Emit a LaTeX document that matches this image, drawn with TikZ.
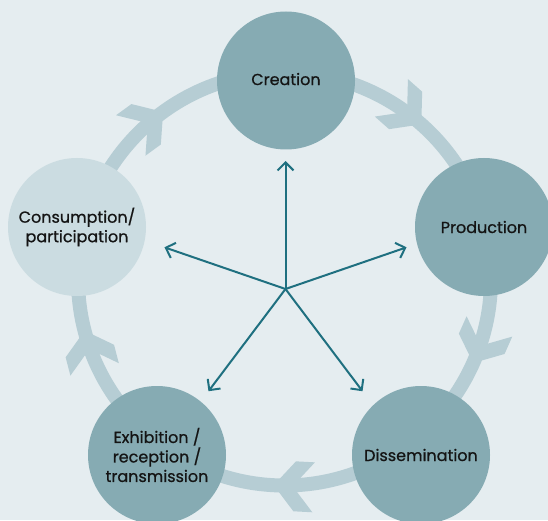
\documentclass[tikz,border=0pt]{standalone}
\usepackage{fontspec}
\setmainfont{Poppins}[FakeBold=0.7]
\usetikzlibrary{arrows.meta}
\definecolor{bgcol}{HTML}{E5EDF0}
\definecolor{darkcol}{HTML}{86ABB3}
\definecolor{lightcol}{HTML}{CBDCE1}
\definecolor{ringcol}{HTML}{B6CDD4}
\definecolor{spokecol}{HTML}{1F7080}
\definecolor{txtcol}{HTML}{141414}
\begin{document}
\begin{tikzpicture}[x=1pt,y=1pt,
  stage/.style={circle, minimum size=138pt, inner sep=0pt, fill=darkcol, text=txtcol,
    align=center, font=\fontsize{16}{19.5}\selectfont},
  spoke/.style={draw=spokecol, line width=2pt, -{Straight Barb[length=8pt,width=16pt,line width=2pt]}},
  ring/.style={draw=ringcol, line width=14pt},
  chevron/.style={fill=ringcol}]
\fill[bgcol] (0,0) rectangle (548,520);
\useasboundingbox (0,0) rectangle (548,520);
\coordinate (rc) at (284.5,241);
\draw[ring] (rc) circle[radius=206.5];
\foreach \t in {126,48.5,-24,-93,-165.5}{
  \begin{scope}[shift={(rc)}, rotate=\t]
    \fill[chevron] (206.5,0) -- (231.5,21) -- (231.5,40) -- (206.5,19) -- (181.5,40) -- (181.5,21) -- cycle;
  \end{scope}
}
\node[stage] (creation) at (286,439.5) {\raisebox{3pt}{Creation}};
\node[stage] (production) at (484,293) {Production};
\node[stage] (dissemination) at (421,65) {Dissemination};
\node[stage] (exhibition) at (157,65) {Exhibition /\\reception /\\transmission};
\node[stage, fill=lightcol] (consumption) at (77,293) {Consumption/\\participation};
\coordinate (hub) at (285.5,231);
\foreach \a/\n in {90/t1, 19/t2, -53/t3, -127/t4, 161/t5}{
  \coordinate (\n) at ([shift={(\a:128)}]hub);
  \draw[spoke] (hub) -- (\n);
}
\end{tikzpicture}
\end{document}
